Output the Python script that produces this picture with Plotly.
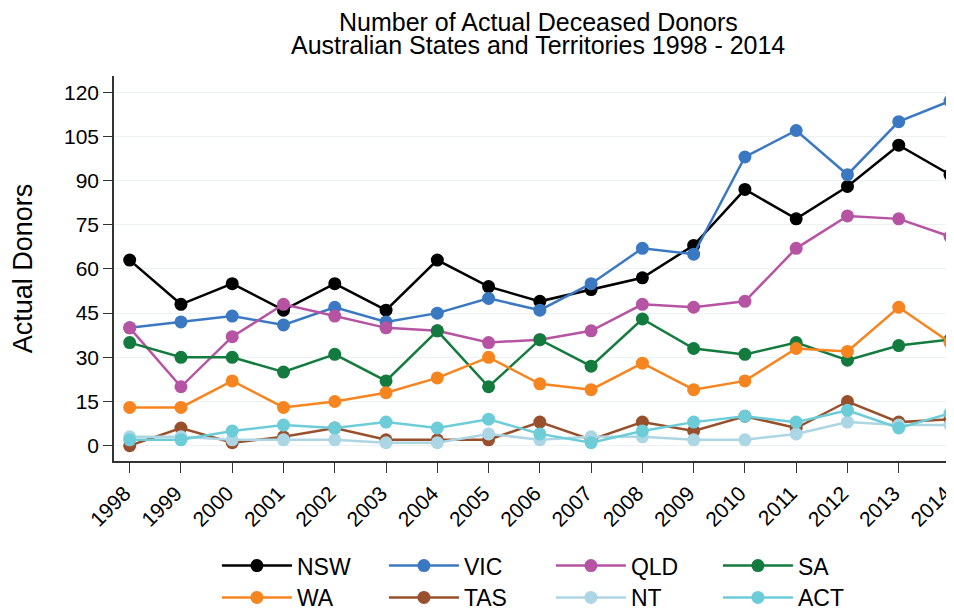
import plotly.graph_objects as go

# actual deceased donors per state, 1998 - 2014
years = list(range(1998, 2015))

nsw = [63, 48, 55, 46, 55, 46, 63, 54, 49, 53, 57, 68, 87, 77, 88, 102, 92]
vic = [40, 42, 44, 41, 47, 42, 45, 50, 46, 55, 67, 65, 98, 107, 92, 110, 117]
qld = [40, 20, 37, 48, 44, 40, 39, 35, 36, 39, 48, 47, 49, 67, 78, 77, 71]
sa = [35, 30, 30, 25, 31, 22, 39, 20, 36, 27, 43, 33, 31, 35, 29, 34, 36]
wa = [13, 13, 22, 13, 15, 18, 23, 30, 21, 19, 28, 19, 22, 33, 32, 47, 35]
tas = [0, 6, 1, 3, 6, 2, 2, 2, 8, 2, 8, 5, 10, 6, 15, 8, 9]
nt = [3, 3, 2, 2, 2, 1, 1, 4, 2, 3, 3, 2, 2, 4, 8, 7, 7]
act = [2, 2, 5, 7, 6, 8, 6, 9, 4, 1, 5, 8, 10, 8, 12, 6, 11]

series = [
    ("NSW", nsw, "#000000", "legend"),
    ("VIC", vic, "#3b78c2", "legend"),
    ("QLD", qld, "#b654a3", "legend"),
    ("SA", sa, "#137b3d", "legend"),
    ("WA", wa, "#f6851f", "legend2"),
    ("TAS", tas, "#984f2b", "legend2"),
    ("NT", nt, "#acd6e4", "legend2"),
    ("ACT", act, "#6ccdd9", "legend2"),
]

fig = go.Figure()
for name, vals, col, leg in series:
    fig.add_trace(go.Scatter(
        x=years, y=vals, name=name, mode="lines+markers",
        line=dict(color=col, width=2.5),
        marker=dict(color=col, size=13),
        legend=leg,
    ))

font = "Liberation Sans, Arial, Helvetica, sans-serif"
leg_style = dict(
    orientation="h", xref="container", yref="container",
    xanchor="left", yanchor="top",
    itemwidth=70, entrywidth=82, entrywidthmode="pixels",
    font=dict(size=23, color="black", family=font),
    bgcolor="rgba(0,0,0,0)",
)

# page body adds 8px on the left and top, margins allow for it
fig.update_layout(
    width=954, height=612,
    margin=dict(l=106, r=8, t=68, b=159),
    paper_bgcolor="white", plot_bgcolor="white",
    font=dict(family=font, color="black"),
    legend=dict(x=0.219, y=0.124, **leg_style),
    legend2=dict(x=0.219, y=0.072, **leg_style),
    showlegend=True,
)

# two title lines set close together
fig.add_annotation(text="Number of Actual Deceased Donors", xref="paper", yref="paper",
                   x=0.505, y=1.140, xanchor="center", yanchor="middle",
                   showarrow=False, font=dict(size=25, color="black"))
fig.add_annotation(text="Australian States and Territories 1998 - 2014", xref="paper", yref="paper",
                   x=0.505, y=1.080, xanchor="center", yanchor="middle",
                   showarrow=False, font=dict(size=25, color="black"))

fig.update_xaxes(
    range=[1997.694, 2014.078], automargin=False,
    tickmode="array", tickvals=years, ticktext=[str(y) for y in years],
    tickangle=-45, ticks="outside", ticklen=10, tickwidth=1.3, tickcolor="#333",
    ticklabelshift=-5,
    showline=True, linecolor="#333", linewidth=1.5,
    showgrid=False, zeroline=False,
    tickfont=dict(size=21, color="black"),
)
fig.update_yaxes(
    range=[-5.2, 125.5], automargin=False,
    tickmode="array", tickvals=[0, 15, 30, 45, 60, 75, 90, 105, 120],
    ticks="outside", ticklen=9, tickwidth=1.3, tickcolor="#333",
    showline=True, linecolor="#333", linewidth=1.5,
    showgrid=True, gridcolor="#eaf2f2", gridwidth=1,
    zeroline=False,
    tickfont=dict(size=21, color="black"),
    title=dict(text="Actual Donors", font=dict(size=27, color="black"), standoff=26),
)

fig.write_html("out.html")
